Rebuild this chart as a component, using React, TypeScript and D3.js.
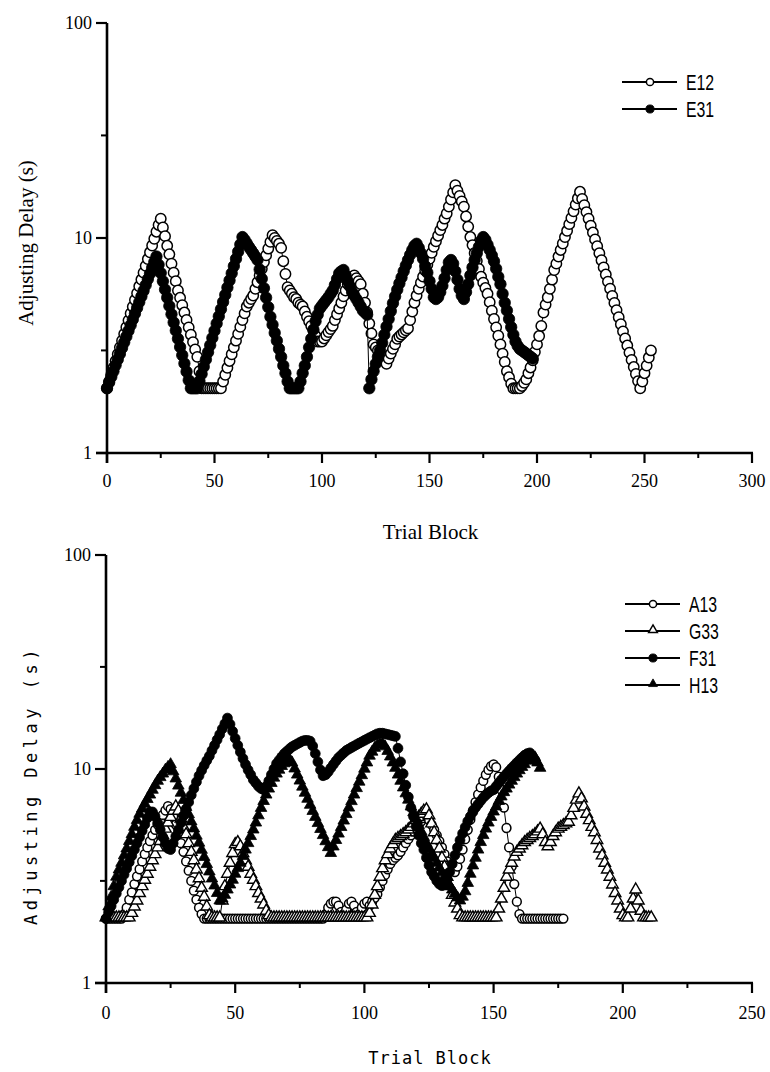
import React from 'react';
import * as d3 from 'd3';

// ---------- DATA (value per trial block, block = index) ----------
const E12 = [
  2.0, 2.15, 2.31, 2.49, 2.68, 2.88, 3.1, 3.33, 3.58, 3.85, 4.14, 4.46, 4.79, 5.15, 5.54, 5.96, 6.41, 6.9, 7.42, 7.98, 8.58, 9.23, 9.92, 10.7, 11.5, 12.3,
  11.2, 10.2, 9.2, 8.4, 7.6, 6.9, 6.3, 5.7,
  5.27, 4.87, 4.5, 4.16, 3.84, 3.55, 3.28, 3.03, 2.8,
  2.4, 2.0, 2.0, 2.0, 2.0, 2.0, 2.0, 2.0, 2.0, 2.0, 2.0,
  2.15, 2.31, 2.49, 2.68, 2.88, 3.1, 3.33, 3.58, 3.86, 4.15, 4.46, 4.8,
  5.0, 5.2, 5.4,
  5.8, 6.23, 6.7, 7.19, 7.73, 8.3, 8.92, 9.59, 10.3,
  10.0, 9.7, 9.4, 9.0,
  7.8, 6.8, 5.9,
  5.7, 5.5, 5.3, 5.2, 5.0, 4.9, 4.8, 4.55, 4.3, 4.1, 3.9, 3.7, 3.5, 3.3, 3.3, 3.3,
  3.41, 3.53, 3.65, 3.77, 3.9,
  4.15, 4.42, 4.7, 5.0, 5.35, 5.7, 6.1, 6.3, 6.5, 6.7, 6.5, 6.3, 6.1, 5.5, 5.0, 4.5, 4.0, 3.6, 3.2, 3.1, 3.0, 2.9, 2.8, 2.7, 2.6, 2.75, 2.9, 3.05, 3.2, 3.4, 3.48, 3.56, 3.64, 3.72, 3.8, 4.15, 4.55, 5.0, 5.4, 5.8, 6.2,
  6.61, 7.05, 7.51, 8.0, 8.53, 9.1,
  9.66, 10.25, 10.88, 11.5, 12.3, 13.0,
  14.0, 15.1, 16.3, 17.6,
  16.6, 15.7, 14.8, 14.0,
  12.6, 11.3, 10.1,
  9.27, 8.51, 7.82, 7.18, 6.6,
  6.2, 5.85, 5.5,
  5.03, 4.59, 4.2, 3.84, 3.51, 3.2,
  2.9, 2.65, 2.4, 2.25, 2.1, 2.0, 2.0, 2.0, 2.0, 2.05, 2.12, 2.2, 2.35, 2.5, 2.7, 2.95, 3.2, 3.5, 3.9, 4.5, 4.9, 5.3, 5.8, 6.4, 7.1, 7.6, 8.2, 8.8,
  9.43, 10.1, 10.8, 11.6, 12.4, 13.3, 14.3, 15.3, 16.4,
  15.2, 14.2, 13.2, 12.3, 11.4, 10.6, 9.85, 9.16, 8.5,
  7.88, 7.3, 6.76, 6.27, 5.81, 5.38, 4.99, 4.62, 4.28, 3.97, 3.68, 3.41, 3.16, 2.93, 2.71, 2.51, 2.33, 2.16, 2.0,
  2.15, 2.35, 2.55, 2.78, 3.0,
];

const E31 = [
  2.0, 2.13, 2.26, 2.4, 2.56, 2.72, 2.89, 3.08, 3.27, 3.48, 3.7, 3.93, 4.18, 4.45, 4.73, 5.03, 5.35, 5.68, 6.04, 6.43, 6.83, 7.27, 7.73, 8.2,
  7.51, 6.87, 6.29, 5.76, 5.28, 4.83, 4.42, 4.05, 3.71, 3.4, 3.11, 2.85, 2.61, 2.39, 2.18, 2.0,
  2.0, 2.0, 2.0,
  2.16, 2.33, 2.52, 2.72, 2.94, 3.17, 3.43, 3.7, 4.0, 4.32, 4.66, 5.04, 5.44, 5.88, 6.35, 6.85, 7.4, 8.0, 8.64, 9.33, 10.1,
  9.8, 9.45, 9.1, 8.8, 8.5, 8.2, 7.9,
  7.14, 6.46, 5.84, 5.28, 4.77, 4.3,
  3.95, 3.62, 3.33, 3.05, 2.8,
  2.55, 2.35, 2.15, 2.0, 2.0, 2.0, 2.0, 2.0,
  2.15, 2.35, 2.55, 2.8, 3.1, 3.4, 3.75, 4.1, 4.4, 4.7, 4.85, 5.0, 5.15, 5.3, 5.5, 5.7, 6.05, 6.45, 6.85, 7.0, 7.1, 6.7, 6.3, 5.95, 5.6, 5.4, 5.2, 5.0, 4.8, 4.6, 4.5, 4.4, 2.0,
  2.2, 2.4, 2.6, 2.8, 3.0, 3.25, 3.55, 3.87, 4.2, 4.57, 4.97, 5.35, 5.75, 6.15, 6.55, 7.0, 7.45, 7.9, 8.35, 8.8, 9.2, 9.4,
  9.0, 8.5, 8.0, 7.4, 6.9, 6.3, 5.8, 5.3, 5.2, 5.3, 5.6, 6.0, 6.5, 7.1, 7.7, 7.9, 7.6, 7.0, 6.4, 5.8, 5.4, 5.2, 5.6, 6.1, 6.7, 7.3, 7.9, 8.5, 9.1, 9.7, 10.1, 9.8, 9.3, 8.8, 8.3, 7.8, 7.2, 6.6, 6.1, 5.5, 5.0, 4.6, 4.2, 3.85, 3.55, 3.3, 3.15, 3.05, 3.0, 2.95, 2.9, 2.85, 2.8, 2.75,
];

const A13 = [
  2.0, 2.0, 2.0, 2.0, 2.0, 2.0, 2.0,
  2.1, 2.25, 2.45, 2.65, 2.9, 3.15, 3.4, 3.7, 4.0, 4.3, 4.6, 4.9, 5.2, 5.5, 5.8, 6.1, 6.4, 6.7,
  6.5, 6.0, 5.5, 5.0, 4.5, 4.1, 3.7, 3.35, 3.0, 2.7, 2.45, 2.25, 2.1,
  2.0, 2.0, 2.0, 2.0, 2.0, 2.0, 2.0, 2.0, 2.0, 2.0, 2.0, 2.0, 2.0, 2.0, 2.0, 2.0, 2.0, 2.0, 2.0, 2.0, 2.0, 2.0, 2.0,
  2.0, 2.0, 2.0, 2.0, 2.0, 2.0, 2.0, 2.0, 2.0, 2.0, 2.0, 2.0, 2.0, 2.0, 2.0, 2.0, 2.0, 2.0, 2.0, 2.0, 2.0, 2.0, 2.0, 2.0,
  2.1, 2.25, 2.35, 2.4, 2.4, 2.3, 2.15, 2.1, 2.2, 2.35, 2.4, 2.3, 2.15, 2.1, 2.25, 2.35, 2.4,
  2.3, 2.4, 2.5, 2.6, 2.8, 3.0, 3.2, 3.4, 3.6, 3.75, 3.85, 3.95, 4.1, 4.3, 4.5, 4.7, 4.9, 5.1, 5.3, 5.5, 5.7, 5.9, 6.0, 5.8, 5.5, 5.2, 4.9, 4.6, 4.3, 4.0, 3.7, 3.5, 3.35, 3.3,
  3.5, 3.8, 4.2, 4.7, 5.2, 5.8, 6.4, 7.0, 7.6, 8.2, 8.8, 9.4, 9.9, 10.3, 10.5, 10.2, 9.2, 8.0, 6.6, 5.3, 4.3, 3.5, 2.9, 2.4, 2.1,
  2.0, 2.0, 2.0, 2.0, 2.0, 2.0, 2.0, 2.0, 2.0, 2.0, 2.0, 2.0, 2.0, 2.0, 2.0, 2.0, 2.0,
];

const G33 = [
  2.0, 2.0, 2.0, 2.0, 2.0, 2.0, 2.0, 2.0, 2.0, 2.0,
  2.1, 2.25, 2.4, 2.6, 2.8, 3.0, 3.2, 3.45, 3.7, 3.95, 4.25, 4.55, 4.85, 5.2, 5.55, 5.9, 6.3, 6.6,
  6.3, 5.8, 5.3, 4.9, 4.45, 4.05, 3.7, 3.35, 3.05, 2.75, 2.5, 2.25, 2.05,
  2.0, 2.0, 2.0, 2.0,
  2.4, 2.8, 3.2, 3.6, 4.0, 4.4, 4.5, 4.3, 4.0, 3.7, 3.45, 3.2, 3.0, 2.8, 2.6, 2.45, 2.3, 2.15, 2.05,
  2.0, 2.0, 2.0, 2.0, 2.0, 2.0, 2.0, 2.0, 2.0, 2.0, 2.0, 2.0, 2.0, 2.0, 2.0, 2.0, 2.0, 2.0, 2.0,
  2.0, 2.0, 2.0, 2.0, 2.0, 2.0, 2.0, 2.0, 2.0, 2.0, 2.0, 2.0, 2.0, 2.0, 2.0, 2.0, 2.0, 2.0, 2.0,
  2.1, 2.3, 2.55, 2.8, 3.1, 3.4, 3.7, 3.95, 4.2, 4.4, 4.6, 4.7, 4.8, 4.9, 5.0, 5.15, 5.3, 5.5, 5.7, 5.9, 6.1, 6.3, 6.4, 6.0, 5.5, 5.0, 4.6, 4.2, 3.8, 3.45, 3.1, 2.8, 2.55, 2.35, 2.2, 2.05,
  2.0, 2.0, 2.0, 2.0, 2.0, 2.0, 2.0, 2.0, 2.0, 2.0, 2.0, 2.0, 2.0, 2.0,
  2.2, 2.45, 2.75, 3.1, 3.35, 3.6, 3.85, 4.05, 4.2, 4.35, 4.5, 4.6, 4.7, 4.8, 4.9, 5.05, 5.2, 4.9, 4.5, 4.3, 4.5, 4.8, 5.0, 5.2, 5.3, 5.4, 5.5, 5.6, 6.0, 6.5, 7.1, 7.6, 7.2, 6.6, 6.1, 5.7, 5.3, 5.0, 4.6, 4.2, 3.9, 3.6, 3.35, 3.1, 2.85, 2.6, 2.4, 2.2, 2.05, 2.0, 2.0, 2.2, 2.45, 2.7, 2.4, 2.15, 2.0, 2.0, 2.0, 2.0,
];

const F31 = [
  2.0, 2.14, 2.29, 2.45, 2.62, 2.8, 3.0, 3.21, 3.43, 3.67, 3.93, 4.2, 4.5, 4.8, 5.15, 5.5, 5.9, 6.3,
  6.3, 6.0, 5.6, 5.2, 4.8, 4.5, 4.25, 4.2,
  4.5, 4.85, 5.2, 5.6, 6.05, 6.5, 7.0, 7.55, 8.1, 8.7, 9.3, 9.85, 10.4, 10.95, 11.5, 12.2, 12.9, 13.7, 14.5, 15.4, 16.3, 17.3,
  16.2, 15.0, 13.9, 12.9, 12.0, 11.2, 10.5, 9.9, 9.4, 8.9, 8.6, 8.3, 8.1, 8.0, 8.3, 8.8, 9.4, 10.0, 10.6, 11.0, 11.4, 11.8, 12.1, 12.4, 12.7, 12.9, 13.1, 13.3, 13.5, 13.6, 13.6, 13.5, 12.8, 11.8, 10.8, 9.9, 9.3, 9.4, 9.7, 10.1, 10.5, 10.9, 11.3, 11.6, 11.9, 12.2, 12.4, 12.6, 12.8, 13.0, 13.2, 13.4, 13.6, 13.8, 14.0, 14.2, 14.4, 14.6, 14.7, 14.7, 14.6, 14.5, 14.4, 14.3, 14.2,
  12.5, 10.8, 9.5, 8.4, 7.4, 6.6, 6.0, 5.4, 4.9, 4.5, 4.2, 3.85, 3.55, 3.3, 3.15, 3.0, 2.9, 2.85, 2.9, 3.05, 3.3, 3.6, 3.95, 4.3, 4.65, 5.0, 5.35, 5.7, 6.0, 6.3, 6.6, 6.85, 7.1, 7.35, 7.55, 7.75, 7.9, 8.0, 8.3, 8.6, 8.9, 9.2, 9.5, 9.8, 10.1, 10.4, 10.7, 11.0, 11.3, 11.6, 11.8, 11.9, 11.5, 11.0,
];

const H13 = [
  2.0, 2.25, 2.5, 2.8, 3.1, 3.35, 3.6, 3.9, 4.2, 4.55, 4.9, 5.3, 5.7, 6.1, 6.45, 6.8, 7.15, 7.5, 7.9, 8.3, 8.7, 9.05, 9.4, 9.8, 10.1, 10.4,
  9.63, 8.92, 8.26, 7.65, 7.08, 6.56, 6.07, 5.62, 5.21, 4.82, 4.47, 4.14, 3.83, 3.55, 3.28, 3.04, 2.82, 2.6, 2.4,
  2.45, 2.55, 2.7, 2.85, 3.0, 3.2, 3.4, 3.6, 3.87, 4.15, 4.45, 4.8, 5.15, 5.55, 6.0, 6.5, 7.0, 7.5, 8.0, 8.5, 9.0, 9.4, 9.8, 10.2, 10.5, 10.8, 11.0, 10.6,
  9.93, 9.3, 8.72, 8.17, 7.65, 7.17, 6.72, 6.29, 5.9, 5.52, 5.18, 4.85, 4.54, 4.26, 4.0,
  4.29, 4.6, 4.93, 5.29, 5.67, 6.08, 6.52, 6.99, 7.5, 8.04, 8.62, 9.24, 9.91, 10.6, 11.4, 11.9, 12.4, 12.8, 13.0, 13.0, 12.6, 12.0, 11.3,
  10.6, 10.0, 9.3, 8.7, 8.1, 7.6, 7.1, 6.6, 6.2, 5.8, 5.4, 5.05, 4.75, 4.45, 4.2, 4.0, 3.8, 3.6, 3.42, 3.25, 3.1, 2.95, 2.82, 2.7, 2.58, 2.48, 2.4,
  2.5, 2.65, 2.9, 3.2, 3.5, 3.8, 4.15, 4.5, 4.85, 5.2, 5.55, 5.9, 6.25, 6.6, 7.0, 7.35, 7.7, 8.0, 8.35, 8.7, 9.05, 9.4, 9.75, 10.1, 10.4, 10.8, 11.1, 11.4, 11.2, 10.6, 10.0,
];

const topXTicks = [0, 50, 100, 150, 200, 250, 300];
const topXMinor = [25, 75, 125, 175, 225, 275];
const botXTicks = [0, 50, 100, 150, 200, 250];
const botXMinor = [25, 75, 125, 175, 225];
const yTicks = [1, 10, 100];
const yMinor = [3, 30];

const topSeries = [
  { name: 'E12', values: E12, marker: 'circle', filled: false },
  { name: 'E31', values: E31, marker: 'circle', filled: true },
];
const botSeries = [
  { name: 'A13', values: A13, marker: 'circle', filled: false },
  { name: 'G33', values: G33, marker: 'triangle', filled: false },
  { name: 'F31', values: F31, marker: 'circle', filled: true },
  { name: 'H13', values: H13, marker: 'triangle', filled: true },
];

type Series = { name: string; values: number[]; marker: string; filled: boolean };

const triPath = (s: number) => d3.symbol(d3.symbolTriangle, s)() as string;

function Marker({ x, y, marker, filled, r, tri }: any) {
  if (marker === 'circle') {
    return (
      <circle cx={x} cy={y} r={filled ? r + 0.5 : r}
        fill={filled ? '#000' : '#fff'} stroke="#000" strokeWidth={filled ? 0.8 : 1.5} />
    );
  }
  return (
    <path d={triPath(tri)} transform={`translate(${x},${y - 1})`}
      fill={filled ? '#000' : '#fff'} stroke="#000" strokeWidth={filled ? 0.8 : 1.4} strokeLinejoin="miter" />
  );
}

function Panel({ x, y, series, xTicks, xMinor, tickFont, r, tri, legendX, legendY0, legendStep, labelFont, yLabel, yLabelX, yLabelY, xLabel, xLabelY, xLabelSpacing, yLabelSpacing, tickLabelY, labelSize }: any) {
  const line = d3.line<number>().x((_, i) => x(i)).y((v) => y(v));
  const [x0, x1] = x.range();
  const [y0, y1] = y.range();
  return (
    <g>
      {series.map((s: Series) => (
        <g key={s.name}>
          <path d={line(s.values) as string} fill="none" stroke="#000" strokeWidth={1} />
          {s.values.map((v, i) => (
            <Marker key={i} x={x(i)} y={y(v)} marker={s.marker} filled={s.filled} r={r} tri={tri} />
          ))}
        </g>
      ))}
      <line x1={x0} x2={x0} y1={y1} y2={y0 + 10} stroke="#000" strokeWidth={2.6} />
      <line x1={x0 - 11} x2={x1 + 1} y1={y0} y2={y0} stroke="#000" strokeWidth={2.6} />
      {yTicks.map((t) => (
        <g key={'yt' + t}>
          <line x1={x0 - 11} x2={x0} y1={y(t)} y2={y(t)} stroke="#000" strokeWidth={2.2} />
          <text x={x0 - 15} y={y(t) + 6} textAnchor="end" fontFamily={tickFont} fontSize={18}>{t}</text>
        </g>
      ))}
      {yMinor.map((t) => (
        <line key={'ym' + t} x1={x0 - 6} x2={x0} y1={y(t)} y2={y(t)} stroke="#000" strokeWidth={2} />
      ))}
      {xTicks.map((t: number) => (
        <g key={'xt' + t}>
          <line x1={x(t)} x2={x(t)} y1={y0} y2={y0 + 10} stroke="#000" strokeWidth={2.2} />
          <text x={x(t)} y={tickLabelY} textAnchor="middle" fontFamily={tickFont} fontSize={18}>{t}</text>
        </g>
      ))}
      {xMinor.map((t: number) => (
        <line key={'xm' + t} x1={x(t)} x2={x(t)} y1={y0} y2={y0 + 5} stroke="#000" strokeWidth={2} />
      ))}
      <text x={(x0 + x1) / 2 + 1} y={xLabelY} textAnchor="middle" fontFamily={labelFont} fontSize={labelSize}
        letterSpacing={xLabelSpacing}>{xLabel}</text>
      <text transform={`translate(${yLabelX},${yLabelY}) rotate(-90)`} textAnchor="middle" fontFamily={labelFont}
        fontSize={labelSize} letterSpacing={yLabelSpacing}>{yLabel}</text>
      {series.map((s: Series, i: number) => {
        const ly = legendY0 + i * legendStep;
        return (
          <g key={'lg' + s.name}>
            <line x1={legendX} x2={legendX + 55} y1={ly} y2={ly} stroke="#000" strokeWidth={2.2} />
            <Marker x={legendX + 28} y={ly} marker={s.marker} filled={s.filled} r={3.6} tri={34} />
            <text transform={`translate(${legendX + 64},${ly + 8}) scale(0.72,1)`} fontFamily="Liberation Sans, Arial, sans-serif" fontSize={22}>{s.name}</text>
          </g>
        );
      })}
    </g>
  );
}

export default function App() {
  const xTop = d3.scaleLinear().domain([0, 300]).range([107, 752]);
  const yTop = d3.scaleLog().domain([1, 100]).range([453, 23]);
  const xBot = d3.scaleLinear().domain([0, 250]).range([106, 752]);
  const yBot = d3.scaleLog().domain([1, 100]).range([983, 555]);
  return (
    <svg width={770} height={1072} style={{ position: 'absolute', left: 0, top: 0, background: '#fff' }}>
      <rect width={770} height={1072} fill="#fff" />
      <Panel x={xTop} y={yTop} series={topSeries} xTicks={topXTicks} xMinor={topXMinor}
        tickFont="Liberation Serif, serif" r={5.2} tri={48}
        legendX={622} legendY0={82} legendStep={27}
        labelFont="Liberation Serif, serif" labelSize={21} yLabel="Adjusting Delay (s)" yLabelX={33} yLabelY={243}
        xLabel="Trial Block" xLabelY={539} xLabelSpacing={0} yLabelSpacing={0} tickLabelY={487} />
      <Panel x={xBot} y={yBot} series={botSeries} xTicks={botXTicks} xMinor={botXMinor}
        tickFont="Liberation Serif, serif" r={4.4} tri={58}
        legendX={625} legendY0={604} legendStep={27}
        labelFont="DejaVu Sans Mono, monospace" labelSize={17} yLabel="Adjusting Delay (s)" yLabelX={37} yLabelY={785}
        xLabel="Trial Block" xLabelY={1064} xLabelSpacing={1} yLabelSpacing={4.5} tickLabelY={1019} />
    </svg>
  );
}
